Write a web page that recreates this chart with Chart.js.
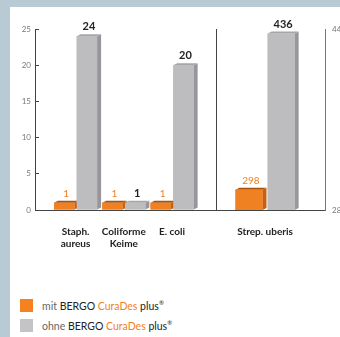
<!DOCTYPE html>
<html>
<head>
<meta charset="utf-8">
<script src="https://cdn.jsdelivr.net/npm/chart.js@4.4.0/dist/chart.umd.min.js"></script>
<style>
  html, body { margin: 0; padding: 0; }
  body { width: 340px; height: 337px; overflow: hidden; background: #b8cad4; position: relative; font-family: Lato, "Noto Sans", sans-serif; }
  #card { position: absolute; left: 10px; top: 7px; width: 340px; height: 340px; background: #fff; }
  #links { position: absolute; left: 0; top: 0; }
  #rechts { position: absolute; left: 206px; top: 0; }
  #legende { position: absolute; left: 20px; top: 299px; }
  .zeile { height: 13px; margin-bottom: 7px; display: flex; align-items: center; font-size: 10.5px; color: #333; white-space: nowrap; }
  .kasten { width: 13px; height: 13px; margin-right: 9px; flex: none; }
  .vor { color: #666; }
  .marke { color: #222; }
  .cura { color: #f08122; }
  sup { font-size: 6px; }
</style>
</head>
<body>
<div id="card"></div>
<canvas id="links" width="216" height="250"></canvas>
<canvas id="rechts" width="160" height="250"></canvas>
<div id="legende"></div>
<script>
// Werte aus der Grafik
var keime = [['Staph.', 'aureus'], ['Coliforme', 'Keime'], ['E. coli']];
var mitCuraDes = [1, 1, 1];
var ohneCuraDes = [24, 1, 20];

var keimeRechts = [['Strep. uberis']];
var mitCuraDesRechts = [298];
var ohneCuraDesRechts = [436];

var yTicksLinks = [0, 5, 10, 15, 20, 25];
var yTicksRechts = [280, 440];

var serien = [
    { vor: 'mit', farbe: '#f5821f' },
    { vor: 'ohne', farbe: '#c4c4c6' }
];

var ORANGE = '#f08122';
var GRAU = '#bdbdc0';

// Farben fuer den 3D-Effekt je Datensatz
var stile = [
    { front: ORANGE, seite: '#c4600f', deckel: '#a9520c', label: ORANGE, font: '10px Lato' },
    { front: GRAU, seite: '#97979b', deckel: '#a6a6a9', label: '#222', font: 'bold 11px Lato' }
];

var balken3d = {
    id: 'balken3d',
    afterDatasetsDraw: function(chart) {
        var ctx = chart.ctx;
        var d = 4, dy = 2;
        var texte = [];
        ctx.save();
        chart.data.datasets.forEach(function(ds, di) {
            var st = stile[di];
            chart.getDatasetMeta(di).data.forEach(function(bar, i) {
                var p = bar.getProps(['x', 'y', 'base', 'width'], true);
                var l = p.x - p.width / 2, r = p.x + p.width / 2, t = p.y;
                var b = Math.min(p.base, chart.chartArea.bottom);
                ctx.fillStyle = st.seite;
                ctx.beginPath();
                ctx.moveTo(r, t); ctx.lineTo(r + d, t - dy); ctx.lineTo(r + d, b - dy); ctx.lineTo(r, b);
                ctx.closePath(); ctx.fill();
                ctx.fillStyle = st.deckel;
                ctx.beginPath();
                ctx.moveTo(l, t); ctx.lineTo(l + d, t - dy); ctx.lineTo(r + d, t - dy); ctx.lineTo(r, t);
                ctx.closePath(); ctx.fill();
                ctx.fillStyle = st.front;
                ctx.fillRect(l, t, r - l, b - t);
                texte.push({ x: p.x + d / 2, y: t - dy - 2, text: String(ds.data[i]), st: st });
            });
        });
        ctx.textAlign = 'center';
        ctx.textBaseline = 'bottom';
        texte.forEach(function(tx) {
            ctx.font = tx.st.font;
            ctx.fillStyle = tx.st.label;
            ctx.fillText(tx.text, tx.x, tx.y);
        });
        ctx.restore();
    }
};

var schrift = { family: 'Lato', size: 10, weight: 'bold' };
var tickSchrift = { family: 'Lato', size: 8 };

var chartLinks = new Chart(document.getElementById('links').getContext('2d'), {
    type: 'bar',
    data: {
        labels: keime.map(function(k, i) { return i; }),
        datasets: [
            { label: 'mit', data: mitCuraDes, backgroundColor: ORANGE, categoryPercentage: 0.94, barPercentage: 0.9 },
            { label: 'ohne', data: ohneCuraDes, backgroundColor: GRAU, categoryPercentage: 0.94, barPercentage: 0.9 }
        ]
    },
    options: {
        responsive: false,
        animation: false,
        layout: { padding: { top: 29, right: 0, bottom: 0, left: 0 } },
        plugins: { legend: { display: false }, tooltip: { enabled: false } },
        scales: {
            x: {
                type: 'linear',
                min: -0.84,
                max: 2.91,
                offset: false,
                afterBuildTicks: function(s) { s.ticks = keime.map(function(k, i) { return { value: i }; }); },
                afterFit: function(s) { s.height = 40; },
                grid: { display: false, offset: false },
                border: { display: true, color: '#444', width: 1 },
                ticks: {
                    padding: 8,
                    color: '#222',
                    font: schrift,
                    maxRotation: 0,
                    autoSkip: false,
                    callback: function(v) { return keime[v]; }
                }
            },
            y: {
                min: 0,
                max: 25,
                afterBuildTicks: function(s) { s.ticks = yTicksLinks.map(function(v) { return { value: v }; }); },
                afterFit: function(s) { s.width = 35; },
                grid: { display: true, drawOnChartArea: false, drawTicks: true, tickLength: -4, color: '#444' },
                border: { display: true, color: '#444', width: 1 },
                ticks: { padding: 8, color: '#777', font: tickSchrift }
            }
        }
    },
    plugins: [balken3d]
});

var chartRechts = new Chart(document.getElementById('rechts').getContext('2d'), {
    type: 'bar',
    data: {
        labels: keimeRechts.map(function(k, i) { return i; }),
        datasets: [
            { label: 'mit', data: mitCuraDesRechts, yAxisID: 'y', backgroundColor: ORANGE, categoryPercentage: 0.59, barPercentage: 0.84 },
            { label: 'ohne', data: ohneCuraDesRechts, yAxisID: 'y', backgroundColor: GRAU, categoryPercentage: 0.59, barPercentage: 0.84 }
        ]
    },
    options: {
        responsive: false,
        animation: false,
        layout: { padding: { top: 29, right: 0, bottom: 0, left: 0 } },
        plugins: { legend: { display: false }, tooltip: { enabled: false } },
        scales: {
            x: {
                type: 'linear',
                min: -0.45,
                max: 0.55,
                offset: false,
                afterBuildTicks: function(s) { s.ticks = [{ value: 0 }]; },
                afterFit: function(s) { s.height = 40; },
                grid: { display: false, offset: false },
                border: { display: true, color: '#444', width: 1 },
                ticks: {
                    padding: 8,
                    color: '#222',
                    font: schrift,
                    maxRotation: 0,
                    callback: function(v) { return keimeRechts[v]; }
                }
            },
            y: {
                position: 'right',
                min: 280,
                max: 440,
                afterBuildTicks: function(s) { s.ticks = yTicksRechts.map(function(v) { return { value: v }; }); },
                afterFit: function(s) { s.width = 41; },
                // grid muss an sein, sonst fehlt die Achsenlinie rechts
                grid: { display: true, drawOnChartArea: false, drawTicks: false, color: '#777' },
                border: { display: true, color: '#777', width: 1 },
                ticks: { padding: 7, color: '#777', font: tickSchrift }
            },
            yl: {
                position: 'left',
                min: 0,
                max: 1,
                afterFit: function(s) { s.width = 10; },
                grid: { display: false },
                border: { display: true, color: '#444', width: 1 },
                ticks: { display: false }
            }
        }
    },
    plugins: [balken3d]
});

// Legende als HTML, weil der Name mehrfarbig ist
var legende = document.getElementById('legende');
serien.forEach(function(s) {
    var z = document.createElement('div');
    z.className = 'zeile';
    z.innerHTML = '<span class="kasten" style="background:' + s.farbe + '"></span>' +
        '<span class="vor">' + s.vor + '</span>&nbsp;' +
        '<span class="marke">BERGO</span>&nbsp;<span class="cura">CuraDes</span>&nbsp;<span class="marke">plus<sup>®</sup></span>';
    legende.appendChild(z);
});
</script>
</body>
</html>
